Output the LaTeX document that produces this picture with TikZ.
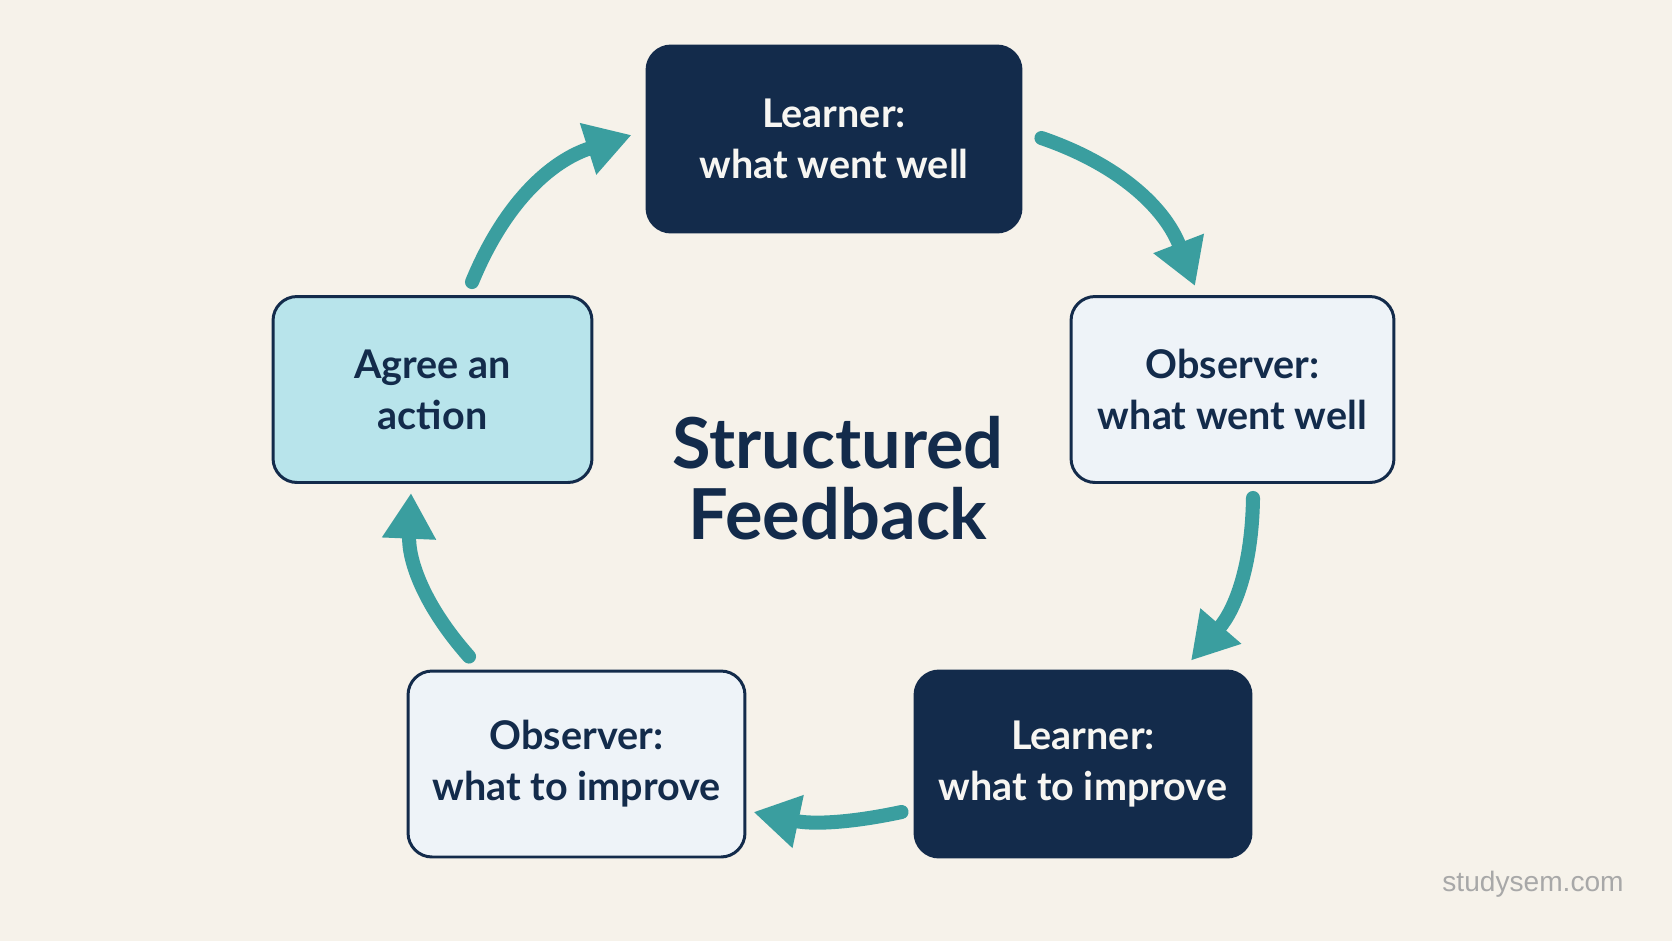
\documentclass[tikz,border=0pt]{standalone}
\usepackage{fontspec}
\setmainfont{Lato}
\newfontfamily\markfont{Liberation Sans}
\usetikzlibrary{positioning,arrows.meta}

\definecolor{paper}{HTML}{F6F2EA}
\definecolor{navy}{HTML}{132B4B}
\definecolor{pale}{HTML}{EEF3F8}
\definecolor{aqua}{HTML}{B8E4EB}
\definecolor{loopteal}{HTML}{3A9E9F}
\definecolor{snow}{HTML}{F7F6F2}
\definecolor{markgray}{HTML}{A8A8A8}

\begin{document}
\begin{tikzpicture}[x=0.02cm,y=0.02cm,
    stepbox/.style={draw=navy, line width=1.7pt, fill=pale, rounded corners=0.48cm,
      minimum height=3.72cm, align=center, text=navy,
      font=\fontsize{22.5}{29}\selectfont\bfseries},
    darkbox/.style={stepbox, fill=navy, text=snow},
    flow/.style={-{Triangle[length=26pt,width=29pt]}, line width=8pt,
      draw=loopteal, line cap=round}]
        \fill [paper] (0,0) rectangle (1672,-941);
        \useasboundingbox (0,0) rectangle (1672,-941);
        % the five steps
        \node [darkbox, minimum width=7.48cm] (wentwell) at (834,-139) {Learner:\\what went well};
        \node [stepbox, minimum width=6.46cm] (obswell) at (1232.5,-389.5) {Observer:\\what went well};
        \node [darkbox, minimum width=6.72cm] (improve) at (1083,-764) {Learner:\\what to improve};
        \node [stepbox, minimum width=6.74cm] (obsimprove) at (576.5,-764) {Observer:\\what to improve};
        \node [stepbox, fill=aqua, minimum width=6.38cm] (action) at (432.5,-389.5) {Agree an\\action};
        % centre title
        \node [font=\fontsize{40}{40.5}\selectfont\bfseries, text=navy, align=center] (title) at (838,-478) {Structured\\Feedback};
        % arrows round the loop
        \draw [flow] ([xshift=0.79cm,yshift=0.26cm]action.north) to[bend left=25] ([xshift=-0.28cm,yshift=0.08cm]wentwell.west);
        \draw [flow] ([xshift=0.38cm,yshift=0.02cm]wentwell.east) to[bend left=25] ([xshift=-0.75cm,yshift=0.18cm]obswell.north);
        \draw [flow] ([xshift=0.41cm,yshift=-0.28cm]obswell.south) to[bend left=20] ([xshift=2.16cm,yshift=0.18cm]improve.north);
        \draw [flow] ([xshift=-0.24cm,yshift=-0.96cm]improve.west) to[bend left=12] ([xshift=0.14cm,yshift=-0.96cm]obsimprove.east);
        \draw [flow] ([xshift=-2.15cm,yshift=0.26cm]obsimprove.north) to[bend left=22] ([xshift=-0.43cm,yshift=-0.18cm]action.south);
        % watermark
        \node [font=\markfont\fontsize{16}{16}\selectfont, text=markgray] (mark) at (1533,-884) {studysem.com};
    \end{tikzpicture}
\end{document}
